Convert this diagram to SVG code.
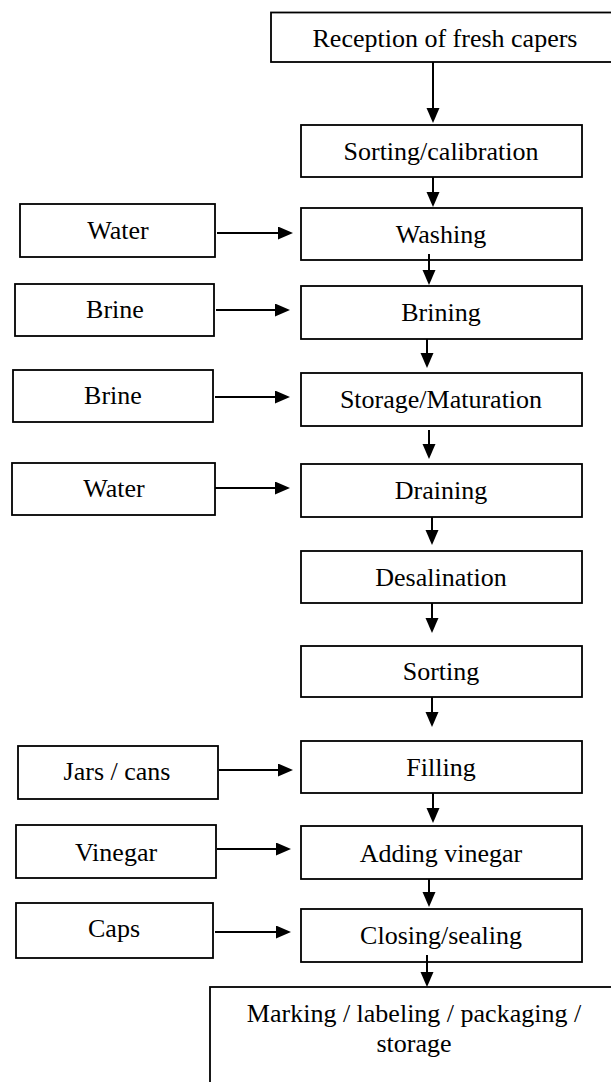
<svg xmlns="http://www.w3.org/2000/svg" width="611" height="1082" viewBox="0 0 611 1082">
  <style>
    .box { fill: #ffffff; stroke: #000000; stroke-width: 1.8; }
    .lbl { font-size: 26px; fill: #000000; text-anchor: middle; }
    .flow { stroke: #000000; stroke-width: 2; fill: none; marker-end: url(#head); }
  </style>
  <defs>
    <marker id="head" markerUnits="userSpaceOnUse" markerWidth="16" markerHeight="14" refX="11" refY="6.5" orient="auto">
      <path d="M0,0 L15,6.5 L0,13 z" fill="#000000"/>
    </marker>
  </defs>

  <rect width="611" height="1082" fill="#ffffff"/>

  <g font-family="Liberation Serif, Times New Roman, serif">
  <!-- main process column -->
  <g id="reception">
    <rect class="box" x="271" y="12.5" width="360" height="49.5"/>
    <text class="lbl" x="445" y="47">Reception of fresh capers</text>
  </g>
  <g id="sorting-calibration">
    <rect class="box" x="301" y="125" width="281" height="52"/>
    <text class="lbl" x="441" y="160">Sorting/calibration</text>
  </g>
  <g id="washing">
    <rect class="box" x="301" y="208" width="281" height="52"/>
    <text class="lbl" x="441" y="243">Washing</text>
  </g>
  <g id="brining">
    <rect class="box" x="301" y="286" width="281" height="53"/>
    <text class="lbl" x="441" y="321">Brining</text>
  </g>
  <g id="storage-maturation">
    <rect class="box" x="301" y="373" width="281" height="53"/>
    <text class="lbl" x="441" y="408">Storage/Maturation</text>
  </g>
  <g id="draining">
    <rect class="box" x="301" y="464" width="281" height="53"/>
    <text class="lbl" x="441" y="499">Draining</text>
  </g>
  <g id="desalination">
    <rect class="box" x="301" y="551" width="281" height="52"/>
    <text class="lbl" x="441" y="586">Desalination</text>
  </g>
  <g id="sorting">
    <rect class="box" x="301" y="646" width="281" height="51"/>
    <text class="lbl" x="441" y="680">Sorting</text>
  </g>
  <g id="filling">
    <rect class="box" x="301" y="741" width="281" height="52"/>
    <text class="lbl" x="441" y="776">Filling</text>
  </g>
  <g id="adding-vinegar">
    <rect class="box" x="301" y="826" width="281" height="53"/>
    <text class="lbl" x="441" y="862">Adding vinegar</text>
  </g>
  <g id="closing-sealing">
    <rect class="box" x="301" y="909" width="281" height="53"/>
    <text class="lbl" x="441" y="944">Closing/sealing</text>
  </g>
  <g id="marking">
    <rect class="box" x="210" y="987" width="420" height="110"/>
    <text class="lbl" x="414" y="1022">Marking / labeling / packaging /</text>
    <text class="lbl" x="414" y="1052">storage</text>
  </g>

  <!-- inputs on the left -->
  <g id="water-1">
    <rect class="box" x="20" y="204" width="195" height="53"/>
    <text class="lbl" x="118" y="239">Water</text>
  </g>
  <g id="brine-1">
    <rect class="box" x="15" y="284" width="199" height="52"/>
    <text class="lbl" x="115" y="318">Brine</text>
  </g>
  <g id="brine-2">
    <rect class="box" x="13" y="370" width="200" height="52"/>
    <text class="lbl" x="113" y="404">Brine</text>
  </g>
  <g id="water-2">
    <rect class="box" x="12" y="463" width="203" height="52"/>
    <text class="lbl" x="114" y="497">Water</text>
  </g>
  <g id="jars-cans">
    <rect class="box" x="18" y="746" width="200" height="53"/>
    <text class="lbl" x="117" y="780">Jars / cans</text>
  </g>
  <g id="vinegar">
    <rect class="box" x="16" y="825" width="200" height="53"/>
    <text class="lbl" x="116" y="861">Vinegar</text>
  </g>
  <g id="caps">
    <rect class="box" x="16" y="903" width="197" height="55"/>
    <text class="lbl" x="114" y="937">Caps</text>
  </g>
  </g>

  <!-- connectors -->
  <g id="connectors">
    <line class="flow" x1="433" y1="62" x2="433" y2="119"/>
    <line class="flow" x1="433" y1="177" x2="433" y2="203"/>
    <line class="flow" x1="429" y1="254" x2="429" y2="281"/>
    <line class="flow" x1="427" y1="339" x2="427" y2="364"/>
    <line class="flow" x1="429" y1="430" x2="429" y2="455"/>
    <line class="flow" x1="432" y1="517" x2="432" y2="541"/>
    <line class="flow" x1="432" y1="603" x2="432" y2="629"/>
    <line class="flow" x1="432" y1="697" x2="432" y2="723"/>
    <line class="flow" x1="433" y1="793" x2="433" y2="819"/>
    <line class="flow" x1="429" y1="879" x2="429" y2="903"/>
    <line class="flow" x1="427" y1="955" x2="427" y2="983"/>

    <line class="flow" x1="217" y1="233" x2="289" y2="233"/>
    <line class="flow" x1="216" y1="310" x2="286" y2="310"/>
    <line class="flow" x1="215" y1="397" x2="286" y2="397"/>
    <line class="flow" x1="215" y1="488" x2="286" y2="488"/>
    <line class="flow" x1="219" y1="770" x2="289" y2="770"/>
    <line class="flow" x1="217" y1="849" x2="287" y2="849"/>
    <line class="flow" x1="215" y1="932" x2="287" y2="932"/>
  </g>
</svg>
